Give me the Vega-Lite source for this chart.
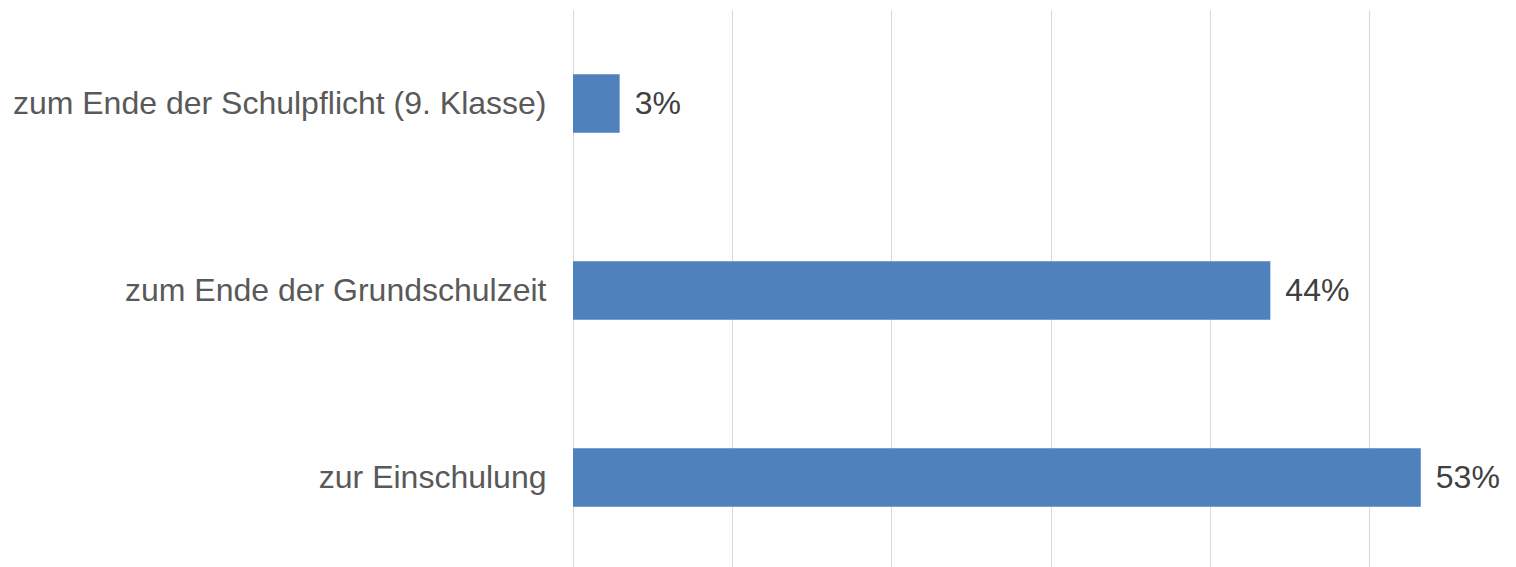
{
  "$schema": "https://vega.github.io/schema/vega-lite/v6.json",
  "autosize": "none",
  "padding": {"left": 573, "top": 10, "right": 0, "bottom": 0},
  "width": 943,
  "height": 561,
  "background": "white",
  "config": {"view": {"stroke": null}, "font": "Liberation Sans"},
  "data": {
    "values": [
      {"kategorie": "zum Ende der Schulpflicht (9. Klasse)", "anteil": 0.0293},
      {"kategorie": "zum Ende der Grundschulzeit", "anteil": 0.438},
      {"kategorie": "zur Einschulung", "anteil": 0.5325}
    ]
  },
  "encoding": {
    "y": {
      "field": "kategorie",
      "type": "nominal",
      "sort": null,
      "scale": {"paddingInner": 0.688, "paddingOuter": 0.344},
      "axis": {
        "title": null,
        "domain": false,
        "ticks": false,
        "labelFontSize": 32,
        "labelColor": "#595959",
        "labelPadding": 27,
        "labelLimit": 600,
        "labelFont": "Liberation Sans"
      }
    },
    "x": {
      "field": "anteil",
      "type": "quantitative",
      "scale": {"domain": [0, 0.5923], "nice": false, "zero": true},
      "axis": {
        "title": null,
        "labels": false,
        "ticks": false,
        "domain": false,
        "values": [0, 0.1, 0.2, 0.3, 0.4, 0.5],
        "grid": true,
        "gridColor": "#D9D9D9",
        "gridWidth": 1
      }
    }
  },
  "layer": [
    {"mark": {"type": "bar", "color": "#4F81BD"}},
    {
      "mark": {
        "type": "text",
        "align": "left",
        "baseline": "middle",
        "dx": 15,
        "fontSize": 32,
        "color": "#404040",
        "font": "Liberation Sans"
      },
      "encoding": {"text": {"field": "anteil", "type": "quantitative", "format": ".0%"}}
    }
  ]
}
